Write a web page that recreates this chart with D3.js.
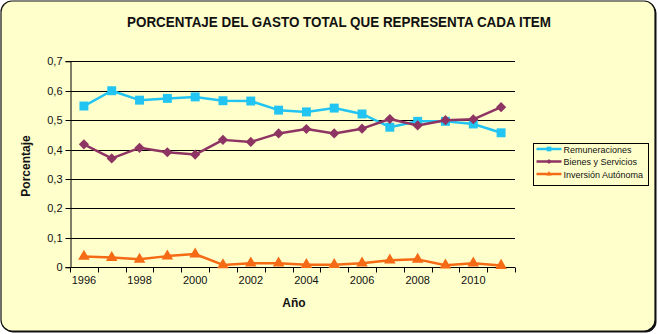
<!DOCTYPE html>
<html>
<head>
<meta charset="utf-8">
<script src="https://cdn.jsdelivr.net/npm/d3@7/dist/d3.min.js"></script>
<style>
  html, body { margin: 0; padding: 0; background: #ffffff; }
  svg { display: block; }
  text { font-family: "Liberation Sans", Arial, sans-serif; }
</style>
</head>
<body>
<svg id="chart" width="658" height="334"></svg>
<script>
// Years on the category axis
const years = [1996, 1997, 1998, 1999, 2000, 2001, 2002, 2003, 2004, 2005, 2006, 2007, 2008, 2009, 2010, 2011];

// Share of total spending per item
const remuneraciones = [0.548, 0.600, 0.568, 0.574, 0.579, 0.566, 0.565, 0.534, 0.528, 0.541, 0.521, 0.476, 0.496, 0.496, 0.487, 0.457];
const bienesServicios = [0.418, 0.370, 0.406, 0.391, 0.383, 0.433, 0.426, 0.455, 0.470, 0.455, 0.471, 0.504, 0.482, 0.500, 0.503, 0.544];
const inversionAutonoma = [0.037, 0.033, 0.027, 0.038, 0.045, 0.008, 0.014, 0.014, 0.009, 0.009, 0.014, 0.024, 0.027, 0.007, 0.014, 0.006];

const yTicks = [0, 0.1, 0.2, 0.3, 0.4, 0.5, 0.6, 0.7];
const xLabelYears = [1996, 1998, 2000, 2002, 2004, 2006, 2008, 2010];

const seriesNames = ["Remuneraciones", "Bienes y Servicios", "Inversión Autónoma"];
const seriesColors = ["#22c4f2", "#8e3462", "#f56a14"];
const seriesValues = [remuneraciones, bienesServicios, inversionAutonoma];

// Marker shapes: square, diamond (rotated square), triangle
const markerPath = [
  d3.symbol().type(d3.symbolSquare).size(80)(),
  d3.symbol().type(d3.symbolSquare).size(52)(),
  d3.symbol().type(d3.symbolTriangle).size(58)()
];
const markerRotate = [0, 45, 0];

const svg = d3.select("#chart");
const W = 658, H = 334;

// Chart area with rounded frame and drop shadow edge
svg.append("rect")
  .attr("x", 2.5).attr("y", 2.5).attr("width", W - 4).attr("height", H - 4)
  .attr("rx", 11).attr("ry", 11)
  .attr("fill", "#111");
svg.append("rect")
  .attr("x", 1).attr("y", 1).attr("width", W - 4).attr("height", H - 4)
  .attr("rx", 11).attr("ry", 11)
  .attr("fill", "#ffffcc").attr("stroke", "#111").attr("stroke-width", 1.2);

const plot = { left: 70, right: 515, top: 61.3, bottom: 267.3 };

const x = d3.scaleBand()
  .domain(years)
  .range([plot.left, plot.right])
  .paddingInner(0).paddingOuter(0);

const y = d3.scaleLinear()
  .domain([0, 0.7])
  .range([plot.bottom, plot.top]);

const fmt = d => d3.format(".1f")(d).replace(".", ",");

// Horizontal gridlines
svg.append("g")
  .selectAll("line")
  .data(yTicks.filter(d => d > 0))
  .join("line")
  .attr("x1", plot.left).attr("x2", plot.right)
  .attr("y1", d => Math.round(y(d)) + 0.5).attr("y2", d => Math.round(y(d)) + 0.5)
  .attr("stroke", "#000").attr("stroke-width", 1);

// Y axis
const yAxis = d3.axisLeft(y)
  .tickValues(yTicks)
  .tickSize(5)
  .tickPadding(3)
  .tickFormat(d => d === 0 ? "0" : fmt(d));
const gy = svg.append("g")
  .attr("transform", `translate(${plot.left + 0.5},0)`)
  .call(yAxis);
gy.select(".domain").attr("stroke", "#000");
gy.selectAll(".tick line").attr("stroke", "#000");
gy.selectAll(".tick").attr("transform", d => `translate(0,${Math.round(y(d)) + 0.5})`);
gy.selectAll(".tick text")
  .attr("font-size", 11).attr("fill", "#111")
  .style("font-family", "'Liberation Sans', Arial, sans-serif");

// X axis: ticks on category boundaries, labels every other year
const xb = svg.append("g").attr("transform", `translate(0,${Math.round(plot.bottom) + 0.5})`);
xb.append("line")
  .attr("x1", plot.left).attr("x2", plot.right)
  .attr("stroke", "#000");
const boundaries = years.map(d => x(d)).concat([x(years[years.length - 1]) + x.bandwidth()]);
xb.selectAll("line.tick")
  .data(boundaries)
  .join("line")
  .attr("class", "tick")
  .attr("x1", d => Math.round(d) + 0.5).attr("x2", d => Math.round(d) + 0.5)
  .attr("y1", 0).attr("y2", 5)
  .attr("stroke", "#000");
xb.selectAll("text")
  .data(xLabelYears)
  .join("text")
  .attr("x", d => x(d) + x.bandwidth() / 2)
  .attr("y", 16)
  .attr("text-anchor", "middle")
  .attr("font-size", 11)
  .attr("fill", "#111")
  .text(d => d);

// Lines and markers
const line = d3.line()
  .x((d, i) => x(years[i]) + x.bandwidth() / 2)
  .y(d => y(d));

seriesValues.forEach((vals, s) => {
  const g = svg.append("g");
  g.append("path")
    .datum(vals)
    .attr("d", line)
    .attr("fill", "none")
    .attr("stroke", seriesColors[s])
    .attr("stroke-width", 2.5)
    .attr("stroke-linejoin", "round");
  g.selectAll("path.m")
    .data(vals)
    .join("path")
    .attr("class", "m")
    .attr("d", markerPath[s])
    .attr("transform", (d, i) => `translate(${x(years[i]) + x.bandwidth() / 2},${y(d)}) rotate(${markerRotate[s]})`)
    .attr("fill", seriesColors[s]);
});

// Title
svg.append("text")
  .attr("x", 339).attr("y", 26.7)
  .attr("text-anchor", "middle")
  .attr("font-size", 14)
  .attr("font-weight", "bold")
  .attr("fill", "#111")
  .attr("textLength", 424)
  .attr("lengthAdjust", "spacingAndGlyphs")
  .text("PORCENTAJE  DEL GASTO TOTAL QUE REPRESENTA CADA ITEM");

// Axis titles
svg.append("text")
  .attr("transform", "translate(30,166) rotate(-90)")
  .attr("text-anchor", "middle")
  .attr("font-size", 12)
  .attr("font-weight", "bold")
  .attr("fill", "#111")
  .text("Porcentaje");

svg.append("text")
  .attr("x", 294).attr("y", 307)
  .attr("text-anchor", "middle")
  .attr("font-size", 12)
  .attr("font-weight", "bold")
  .attr("fill", "#111")
  .text("Año");

// Legend
const lg = svg.append("g").attr("transform", "translate(533.5,143.5)");
lg.append("rect")
  .attr("width", 115).attr("height", 42)
  .attr("fill", "#ffffcc").attr("stroke", "#000").attr("stroke-width", 1);
seriesNames.forEach((name, s) => {
  const yy = 5.5 + s * 12.5;
  lg.append("line")
    .attr("x1", 3).attr("x2", 28).attr("y1", yy).attr("y2", yy)
    .attr("stroke", seriesColors[s]).attr("stroke-width", 2.5);
  lg.append("path")
    .attr("d", d3.symbol().type(s === 2 ? d3.symbolTriangle : d3.symbolSquare).size(s === 0 ? 22 : 12))
    .attr("transform", `translate(15.5,${yy}) rotate(${markerRotate[s]})`)
    .attr("fill", seriesColors[s]);
  lg.append("text")
    .attr("x", 30).attr("y", yy + 3.5)
    .attr("font-size", 9)
    .attr("fill", "#111")
    .text(name);
});
</script>
</body>
</html>
